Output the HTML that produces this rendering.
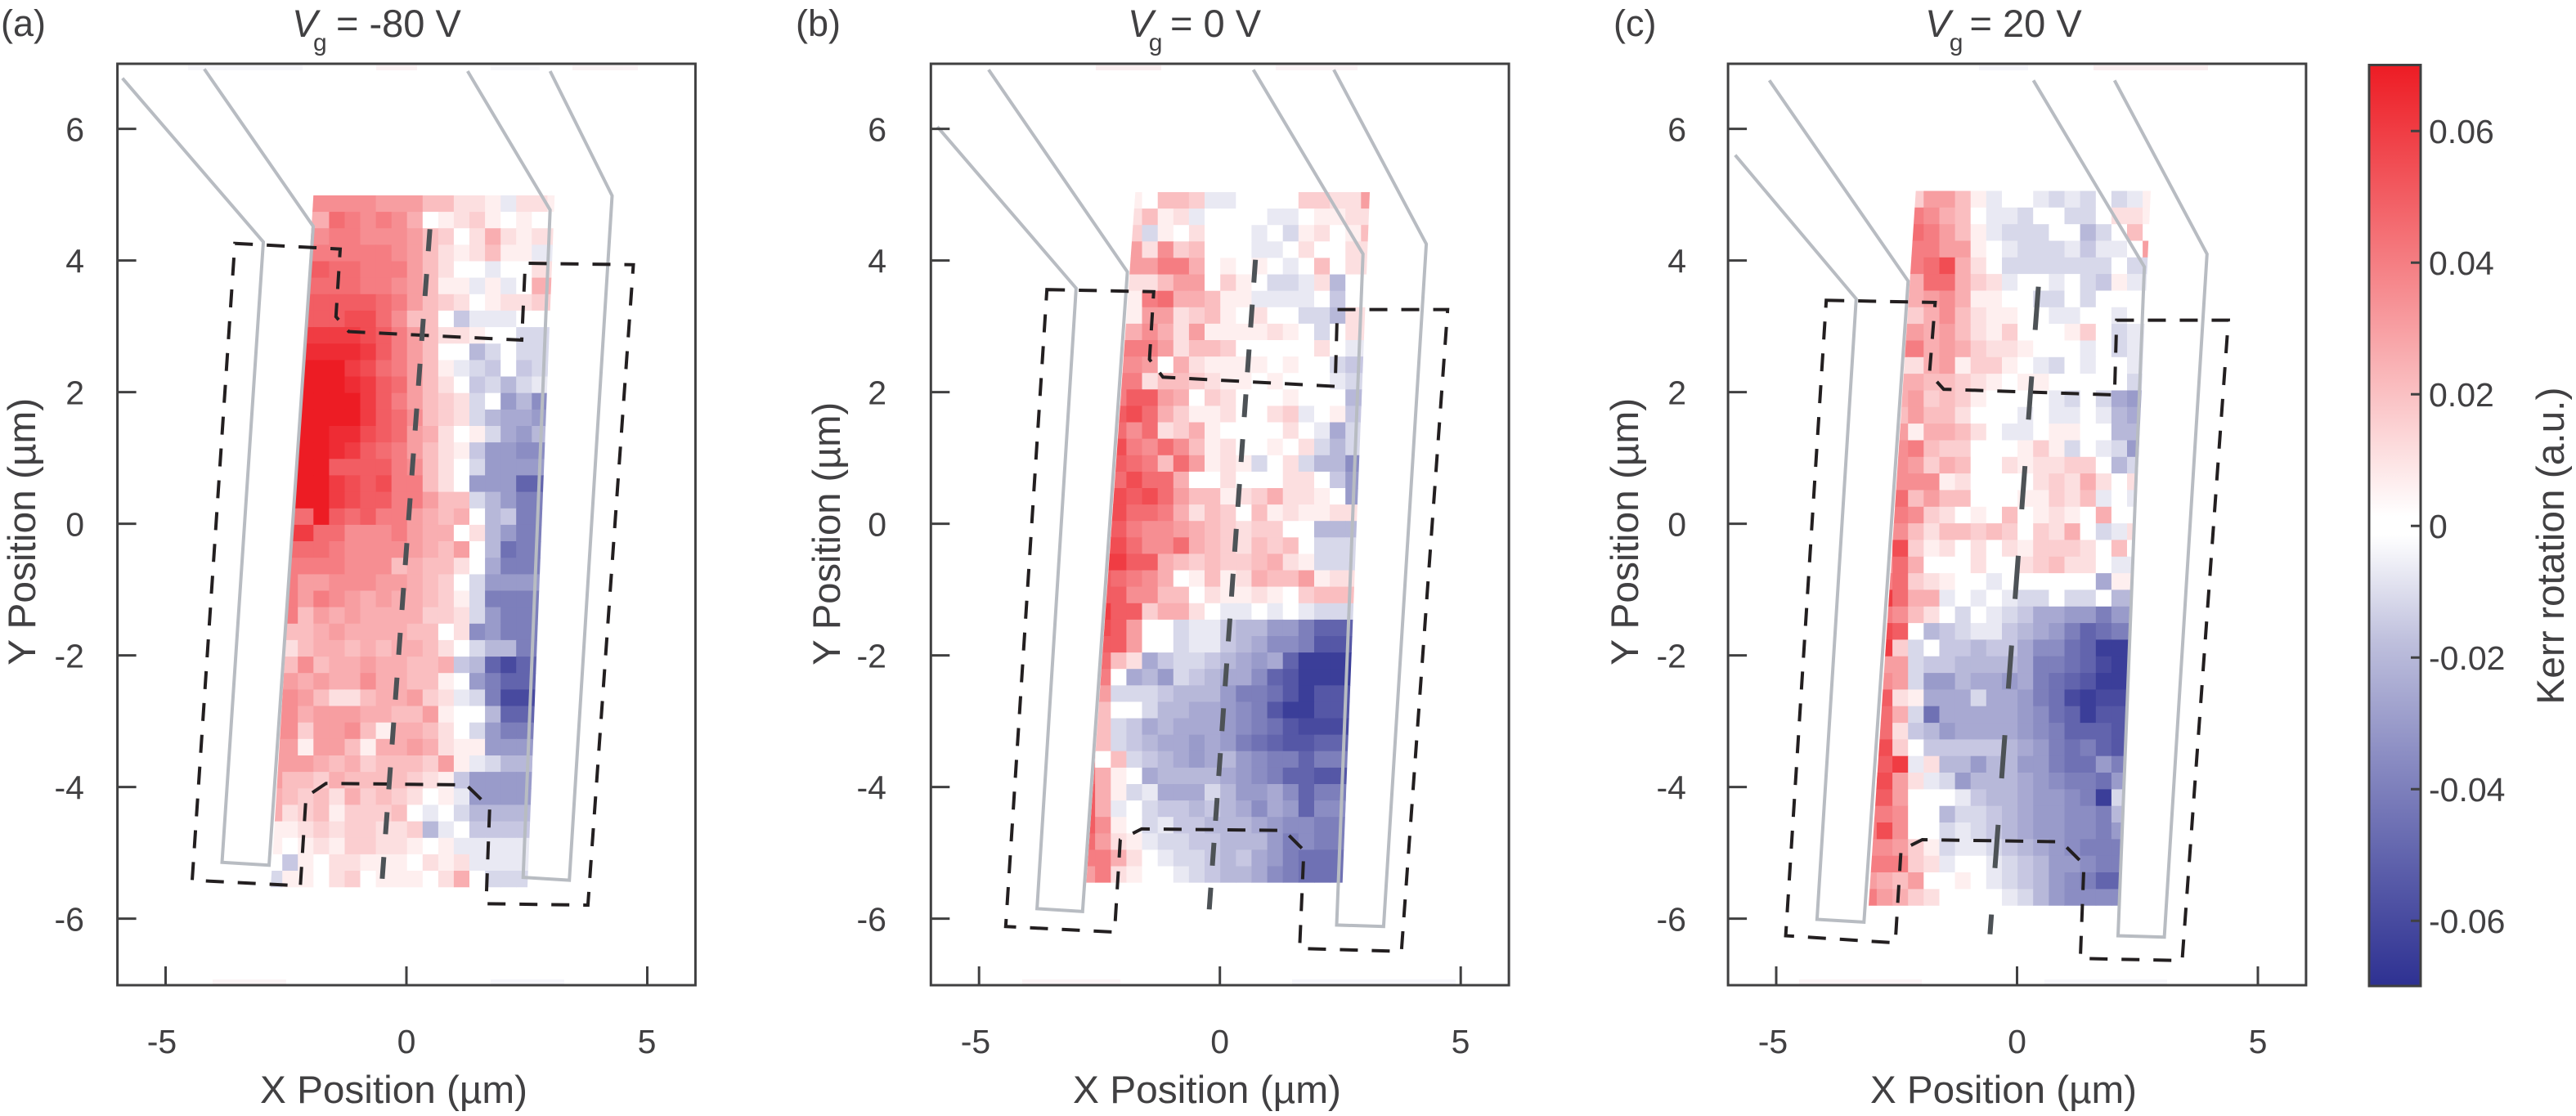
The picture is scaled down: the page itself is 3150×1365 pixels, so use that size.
<!DOCTYPE html>
<html><head><meta charset="utf-8">
<style>
html,body{margin:0;padding:0;background:#fff;}
svg{display:block;}
text{font-family:"Liberation Sans",sans-serif;fill:#414042;}
</style></head>
<body>
<svg id="fig" xmlns="http://www.w3.org/2000/svg" width="3150" height="1365" viewBox="0 0 3150 1365">
<defs>
<clipPath id="clipA"><polygon points="383.3,238.9 678.3,238.9 645,1085.2 331,1085.2"/></clipPath>
<clipPath id="clipB"><polygon points="1388.3,235 1675,235 1641.7,1079.6 1328.3,1079.6"/></clipPath>
<clipPath id="clipC"><polygon points="2342.7,233.5 2630,233.5 2590,1107.7 2285,1107.7"/></clipPath>
<linearGradient id="cb" x1="0" y1="0" x2="0" y2="1">
<stop offset="0" stop-color="#ED1C24"/>
<stop offset="0.25" stop-color="#F68E92"/>
<stop offset="0.49" stop-color="#FFFFFF"/>
<stop offset="0.51" stop-color="#FFFFFF"/>
<stop offset="0.625" stop-color="#BFC0DD"/>
<stop offset="0.75" stop-color="#8B8DC3"/>
<stop offset="0.875" stop-color="#5B5EAA"/>
<stop offset="1" stop-color="#2E3192"/>
</linearGradient>
</defs>
<rect x="0" y="0" width="3150" height="1365" fill="#fff"/>

<!-- faint strips at top/bottom of axes -->
<g opacity="0.35">
<rect x="230" y="80" width="140" height="6" fill="#e8e8f4"/><rect x="460" y="80" width="50" height="6" fill="#f6dde0"/><rect x="600" y="80" width="60" height="6" fill="#ececf6"/><rect x="700" y="80" width="80" height="6" fill="#f6e0e4"/>
<rect x="260" y="1198" width="90" height="6" fill="#f4e0e3"/><rect x="600" y="1198" width="90" height="6" fill="#e4e5f3"/>
<rect x="1340" y="80" width="80" height="6" fill="#f4d0d5"/><rect x="1560" y="80" width="100" height="6" fill="#f6e0e4"/>
<rect x="1250" y="1198" width="120" height="6" fill="#f6e0e4"/><rect x="1580" y="1198" width="200" height="6" fill="#e4e5f3"/>
<rect x="2420" y="80" width="60" height="6" fill="#e4e5f3"/><rect x="2560" y="80" width="140" height="6" fill="#f4d0d5"/>
<rect x="2200" y="1198" width="150" height="6" fill="#f6e0e4"/><rect x="2500" y="1198" width="150" height="6" fill="#e8e8f4"/>
</g>

<g id="hmA" clip-path="url(#clipA)"></g>
<g id="hmB" clip-path="url(#clipB)"></g>
<g id="hmC" clip-path="url(#clipC)"></g>

<!-- gray electrodes -->
<g fill="none" stroke="#B8BCC2" stroke-width="4" stroke-linejoin="miter">
<polyline points="149.7,95.7 322,295.9 271.5,1054.8 329,1058.3 383,276.8 249.8,84.4"/>
<polyline points="571.8,87 672.7,256.8 639.7,1073.1 696.2,1076.6 748.5,239.4 672.7,87"/>
<polyline points="1146.2,154.9 1315.9,352.5 1268.1,1111.4 1323.8,1114.9 1378.6,332.5 1208.9,85.3"/>
<polyline points="1532.6,85.3 1666.7,310.7 1634.5,1131.4 1691.9,1133.2 1744.1,298.5 1631,85.3"/>
<polyline points="2121.8,189.7 2269.8,365.5 2221.9,1124.5 2279.3,1127.9 2333.3,343.8 2163.6,98.3"/>
<polyline points="2486.5,98.3 2622.2,326.4 2590,1144.5 2646.6,1146.2 2698.8,310.7 2585.7,98.3"/>
</g>

<!-- black dashed contours -->
<g fill="none" stroke="#231F20" stroke-width="4" stroke-dasharray="22 17">
<polygon points="287.2,297.7 416,304.6 410.8,387.3 426.5,405.6 638,416 642.3,322 774.5,323.8 718.9,1107.1 594.4,1105.3 598.8,987.8 570.1,960 398.6,958.2 374.2,974.8 367.3,1083.5 235,1076.6"/>
<polygon points="1280.2,354.2 1410.8,356.8 1405.6,439.5 1422.1,461.3 1632.7,472.6 1635.3,378.6 1770.2,378.6 1713.7,1163.6 1589.2,1160.1 1594.4,1040 1570.1,1015.7 1396,1013.9 1369.9,1027 1362.9,1140.1 1229.8,1133.2"/>
<polygon points="2233.2,367.3 2366.4,369.9 2359.4,456.9 2376.8,476.1 2585.7,483 2588.3,391.6 2724.9,391.6 2668.4,1174.9 2543.9,1172.3 2548.3,1057.4 2520.4,1029.6 2350.7,1027 2324.6,1040 2317.6,1153.2 2183.6,1144.5"/>
</g>

<!-- central dashed lines -->
<g fill="none" stroke="#4D5256" stroke-width="6">
<line x1="525.7" y1="280.3" x2="467.4" y2="1074.8" stroke-dasharray="27 28"/>
<line x1="1535.2" y1="317.7" x2="1478.7" y2="1112.3" stroke-dasharray="28 27"/>
<line x1="2492.6" y1="350.7" x2="2433.4" y2="1142.7" stroke-dasharray="53 57"/>
</g>

<!-- frames -->
<g fill="none" stroke="#404041" stroke-width="3">
<rect x="143.6" y="78" width="706.8" height="1127"/>
<rect x="1138.3" y="78" width="706.8" height="1127"/>
<rect x="2113.1" y="78" width="706.8" height="1127"/>
<rect x="2897" y="79.5" width="63" height="1126.5" fill="url(#cb)"/>
</g>

<!-- ticks -->
<g stroke="#404041" stroke-width="3">
<path d="M143.6 157.6h23M143.6 318.6h23M143.6 479.6h23M143.6 640.6h23M143.6 801.6h23M143.6 962.6h23M143.6 1123.6h23"/>
<path d="M1138.3 157.6h23M1138.3 318.6h23M1138.3 479.6h23M1138.3 640.6h23M1138.3 801.6h23M1138.3 962.6h23M1138.3 1123.6h23"/>
<path d="M2113.1 157.6h23M2113.1 318.6h23M2113.1 479.6h23M2113.1 640.6h23M2113.1 801.6h23M2113.1 962.6h23M2113.1 1123.6h23"/>
<path d="M202.5 1205v-23M497 1205v-23M791.5 1205v-23"/>
<path d="M1197.2 1205v-23M1491.7 1205v-23M1786.2 1205v-23"/>
<path d="M2172 1205v-23M2466.5 1205v-23M2761 1205v-23"/>
<path d="M2948 160.2h12M2948 321.2h12M2948 482.2h12M2948 643.2h12M2948 804.2h12M2948 965.2h12M2948 1126.2h12"/>
</g>

<!-- y tick labels -->
<g font-size="41" text-anchor="end">
<text x="103" y="172.3">6</text><text x="103" y="333.3">4</text><text x="103" y="494.3">2</text><text x="103" y="655.3">0</text><text x="103" y="816.3">-2</text><text x="103" y="977.3">-4</text><text x="103" y="1138.3">-6</text>
<text x="1084" y="172.3">6</text><text x="1084" y="333.3">4</text><text x="1084" y="494.3">2</text><text x="1084" y="655.3">0</text><text x="1084" y="816.3">-2</text><text x="1084" y="977.3">-4</text><text x="1084" y="1138.3">-6</text>
<text x="2062" y="172.3">6</text><text x="2062" y="333.3">4</text><text x="2062" y="494.3">2</text><text x="2062" y="655.3">0</text><text x="2062" y="816.3">-2</text><text x="2062" y="977.3">-4</text><text x="2062" y="1138.3">-6</text>
</g>
<!-- x tick labels -->
<g font-size="41" text-anchor="middle">
<text x="198" y="1288">-5</text><text x="497" y="1288">0</text><text x="791" y="1288">5</text>
<text x="1193" y="1288">-5</text><text x="1491.7" y="1288">0</text><text x="1786" y="1288">5</text>
<text x="2168" y="1288">-5</text><text x="2466.5" y="1288">0</text><text x="2761" y="1288">5</text>
</g>
<!-- colorbar tick labels -->
<g font-size="41">
<text x="2970" y="175">0.06</text><text x="2970" y="336">0.04</text><text x="2970" y="497">0.02</text><text x="2970" y="658">0</text><text x="2970" y="819">-0.02</text><text x="2970" y="980">-0.04</text><text x="2970" y="1141">-0.06</text>
</g>

<!-- axis labels -->
<g font-size="47">
<text x="318" y="1349" textLength="327" lengthAdjust="spacingAndGlyphs">X Position (µm)</text>
<text x="1312" y="1349" textLength="328" lengthAdjust="spacingAndGlyphs">X Position (µm)</text>
<text x="2287" y="1349" textLength="326" lengthAdjust="spacingAndGlyphs">X Position (µm)</text>
<text transform="translate(43,813.8) rotate(-90)" textLength="327" lengthAdjust="spacingAndGlyphs">Y Position (µm)</text>
<text transform="translate(1027,813.8) rotate(-90)" textLength="322" lengthAdjust="spacingAndGlyphs">Y Position (µm)</text>
<text transform="translate(2003,813.8) rotate(-90)" textLength="327" lengthAdjust="spacingAndGlyphs">Y Position (µm)</text>
<text transform="translate(3135,861.6) rotate(-90)" textLength="388" lengthAdjust="spacingAndGlyphs">Kerr rotation (a.u.)</text>
</g>

<!-- panel letters -->
<g font-size="45">
<text x="1" y="44">(a)</text>
<text x="973" y="44">(b)</text>
<text x="1973" y="44">(c)</text>
</g>

<!-- titles -->
<g font-size="47">
<text x="357" y="45" font-style="italic">V</text><text x="383" y="62" font-size="30">g</text><text x="411" y="45">= -80 V</text>
<text x="1379" y="45" font-style="italic">V</text><text x="1404.7" y="62" font-size="30">g</text><text x="1431" y="45">= 0 V</text>
<text x="2354" y="45" font-style="italic">V</text><text x="2383.8" y="62" font-size="30">g</text><text x="2408.5" y="45">= 20 V</text>
</g>
</svg>

<script>
(function(){
var NS="http://www.w3.org/2000/svg";
function color(v){
  var t=Math.max(-1,Math.min(1,v/7)),r,g,b;
  if(t>=0){r=255-18*t;g=255-227*t;b=255-219*t;}
  else{t=Math.pow(-t,0.85);r=255-209*t;g=255-206*t;b=255-109*t;}
  return "rgb("+Math.round(r)+","+Math.round(g)+","+Math.round(b)+")";
}
function draw(id,x0,cw,y0,rh,kmin,kmax,rows){
  var g=document.getElementById(id);
  for(var r=0;r<rows.length;r++){
    var st=rows[r][0],vals=rows[r].slice(1);
    for(var k=kmin;k<=kmax;k++){
      var i=k-st;if(i<0)i=0;if(i>=vals.length)i=vals.length-1;
      var e=document.createElementNS(NS,"rect");
      e.setAttribute("x",(x0+cw*k).toFixed(1));
      e.setAttribute("y",(y0+rh*r).toFixed(1));
      e.setAttribute("width",(cw+0.6).toFixed(1));
      e.setAttribute("height",(rh+0.6).toFixed(1));
      e.setAttribute("fill",color(vals[i]));
      g.appendChild(e);
    }
  }
}
var A=[
[3,3.5,3.5,3.5,3.5,3,3,3,2,2,1,1,0.5,-0.5,1,1,0.5],
[3,2.5,4.5,4,3.5,4,3.5,2.5,0,0.5,1,1.5,0.5,0,0.5,0],
[3,3.5,4,4,3.5,3.5,3.5,3,2,1.5,0,1,2.5,1,0.5,1],
[3,4,4,4,4,4,3.5,3,2,1,0.5,1,2,0.5,0.5,-0.5],
[3,5,4.5,4.5,4,4,4,3,2,1,0,0,-0.5,0,0,1],
[3,4.5,4.5,4.5,4,4,3.5,3,2,0.5,0.5,-0.5,0.5,-0.5,0,2.5],
[3,5,5,5,5,4.5,4,3,2,1.5,1,0,0.5,1,1,1.5],
[3,5,5,5.5,5.5,4.5,3.5,2,2,0,-1.5,-0.5,-0.5,-0.5,0,0],
[3,6,6,6,5.5,5,4,3,2,1,1,0.5,0,0,-1,-1],
[3,6.5,6.5,6.5,6,5,4,3,2,0,0,-2,-1,0,-1,-1],
[3,7,7,6,5.5,4.5,4,3,2,0.5,-0.5,-1,-1.5,0,-1.5,-1],
[3,7,7,6.5,6,5,4.5,3,2,1,0,-1.5,-1,-2,-1,-0.5],
[3,7,7,7,6,5,4,3,2,1.5,1,-1,0,-3,-2,-3.5],
[3,7,7,7,6,5,4.5,3.5,2,1.5,1,-1,-2,-2.5,-2.5,-3],
[3,7,6.5,6.5,5.5,5,4.5,3,2.5,1,0,0.5,-1,-2.5,-3,-2],
[2,7,7,6.5,6,5,4.5,4,3,2,1,0.5,-1.5,-3,-3,-3.5],
[2,7,7,5,5,5,5,4,3.5,2,1,0,-1,-3,-3,-3],
[2,7,7,6,5.5,5,5.5,4,4,2,1,0,-3,-3,-3,-5],
[2,7,7,6,5.5,5,5,4,4,3,2,2,-1,-2,-3,-4],
[2,4.5,7,5,4.5,5,4,4,3,2.5,2,2.5,0,-2,-1.5,-4],
[2,6,4.5,4.5,3.5,3.5,3.5,4,3,2.5,2.5,0,1,-2,-3,-4],
[2,4.5,4.5,4,3.5,3.5,3.5,3.5,3,2.5,2,3,0,-2,-4.5,-4],
[1,4,4,4,4,3.5,3.5,3.5,2,2.5,2,2,1,0,-2.5,-4],
[1,4,3,3,3.5,3.5,3.5,3,3,2.5,2,1.5,0,-1,-3,-3],
[1,4,3,4,3.5,3,2.5,3,2.5,2.5,2,1.5,0.5,-1,-4,-4],
[1,4,2,3,2.5,3,2.5,2.5,2.5,2.5,1.5,1.5,1,-1,-3,-4],
[1,2,2,2.5,3,2.5,2.5,2.5,2.5,2,2,0,1,-3.5,-3,-4],
[1,1,2,2.5,2.5,2,2.5,2,2.5,2.5,2,1,0,-1,-2,-2,-4],
[1,2,3.5,2,2.5,2.5,3,2.5,2.5,2,2,2.5,-1.5,-2,-5,-6,-5],
[1,3,2.5,3,2.5,2.5,3.5,2.5,2.5,2,2,0.5,0,-3,-4,-5,-5],
[1,3.5,3,2,1,1,2,2.5,2.5,3,1.5,1,-0.5,-1,-4,-6,-6],
[1,3.5,2.5,3,3,3,2.5,2.5,2,2,3,0.5,0,0,-2,-5,-5],
[1,3.5,1.5,3,3,3.5,2,0.5,2.5,2.5,2,1,0,-1,-3,-4,-4],
[1,3,0.5,3,3,2,0.5,2.5,2.5,3,2.5,1,0.5,0.5,-3,-3,-3],
[1,3,3,2.5,2,2.5,1.5,2,2,2,1.5,3,0.5,-0.5,-1,-2,-2],
[0,3,2,2,1.5,2.5,2,2,2,2,1.5,1,0.5,-1.5,-3,-3],
[0,2.5,2,1.5,2,1,2.5,1.5,2,1.5,1,0,0.5,-0.5,-3,-3],
[0,2.5,1,1.5,2,0.5,1.5,1.5,1.5,2,0,-0.5,0,-1,-2,-2],
[0,0.5,0.5,1,1.5,1,1.5,1.5,1,1,1.5,-2,-0.5,0,-1.5,-1.5],
[0,0.5,0,0.5,1,0.5,1.5,1.5,1,1,0.5,0,0.5,-0.5,-0.5,-0.5],
[0,0,-1.5,0.5,0,1,1,0.5,0.5,0.5,0,1,0.5,1,-0.5,-0.5],
[0,-1,0.5,0.5,0,1,1.5,0,0.5,0.5,0.5,0,1,2.5,0,-1]
];
var B=[
[3,0.5,0,2,2,1.5,-0.5,-0.5,0,0,0,0,1.5,1.5,1,1,3],
[3,1,2,0.5,1,-0.5,0,0,0,0,-0.5,-0.5,0,0.5,0.5,1,1],
[3,1.5,-1,0.5,0,1,0,0,0,-0.5,0,-1,0.5,1,0,0.5,2],
[3,3,1,3.5,1.5,2,0,0,0,-0.5,-0.5,0,1,0,0,1],
[3,3,3,4,4,2.5,0,0.5,0,0.5,0,-0.5,0,2,0,1],
[3,1,1,2,3,3,0,1.5,0.5,0,-1,-1,-0.5,1,-2,0],
[3,0.5,4,4.5,2.5,2.5,2,0.5,0.5,-0.5,-0.5,-0.5,-0.5,0,-1.5,0],
[3,0.5,3,3,1,1.5,2,0.5,0,1,0,0,-1,-1,-2,1],
[3,2.5,3.5,2.5,1,3,0.5,0.5,0.5,0.5,1,0.5,0,-1,0,1],
[3,4,4,3,1,2,2,1.5,0,0,0,0,0,1,0,-0.5],
[3,3.5,3,0,2.5,1,0.5,0.5,0.5,0.5,0,0.5,0,0,-1,-1.5],
[3,4,1,2,2,1.5,1,0.5,0.5,0,0.5,0,0,0,-0.5,-1],
[2,4,5,5,3,2.5,0,1.5,1,0,0,0,0.5,0,0,0,-2],
[2,5,5.5,4.5,2.5,1.5,0.5,0.5,1,0,0,1,1.5,-0.5,0,0.5,-1.5],
[2,4.5,3.5,4.5,1,1.5,2.5,0.5,0,0,0,0,1,0,-0.5,-2.5,-1],
[2,5.5,4,3.5,4.5,3.5,2,0.5,1,0,0,0.5,0,1,-1,-2,-1],
[2,5,4.5,4,2,4.5,3,0.5,1,0.5,-1,0,1,-1,-2,-2,-3.5],
[2,4.5,5.5,4.5,4.5,2.5,0,0,1,0,0,0,1,1,0,-1.5,-3],
[2,5.5,5,5.5,4.5,3,2,2,0.5,1,1.5,2.5,1,1,0.5,0,-3],
[1,5,5.5,4.5,4.5,4,2.5,1,2,1.5,0,2,0.5,1,0.5,0.5,1],
[1,5,5,4,3.5,3.5,3,2.5,2,1.5,1,1.5,1.5,0,0,-2],
[1,5,5.5,4.5,3.5,3.5,4.5,2.5,2,1.5,1,2,1.5,2,0,-1],
[1,6,6,5,5,2.5,2,1.5,2,1.5,1.5,2,2.5,1,0.5,-1],
[1,5,4.5,4,3.5,2.5,0,0.5,2,0.5,1,2.5,2,2,3,0.5,1],
[1,5,5,3.5,3.5,2,2,0,1,0.5,0.5,1,0.5,0,1.5,2],
[1,6,5,5,1.5,2.5,2.5,1,0,-0.5,-0.5,0,-0.5,0,-0.5,-1],
[0,6.5,5.5,5,3,0,0,-1,-0.5,-0.5,-1.5,-2,-2,-3,-3,-4,-5],
[0,5,5,5,3,0,0,-1,-0.5,-0.5,-1.5,-2,-2.5,-3.5,-3.5,-4,-5.5],
[0,5,4.5,2,1,-2.5,-1.5,-1,-1,-1.5,-2,-2.5,-3,-2.5,-5,-6.5,-6.5],
[0,6.5,4,0,-2.5,-2,-3,-1,-1.5,-2,-2.5,-2.5,-3.5,-5,-5.5,-6.5,-6.5],
[0,5.5,3,-1,-1,-1,-1.5,-2,-2,-2,-3,-4,-4,-4.5,-5.5,-6.5,-5.5],
[0,4,2,0,0,-1,-2,-2,-2.5,-2.5,-3,-3.5,-4,-5.5,-6.5,-6.5,-5.5],
[0,3.5,2,-1,-1.5,-2.5,-2,-2.5,-2.5,-2.5,-3,-3.5,-4,-4.5,-5.5,-6,-6],
[0,3.5,2,-1,-1.5,-2,-2.5,-2.5,-3,-2.5,-3,-4,-4.5,-5,-5.5,-5.5,-5],
[0,4.5,0,2,-1,-1.5,-2,-2.5,-3,-2.5,-2,-3,-3.5,-4,-4,-5,-4],
[0,4.5,2.5,0.5,0,-2.5,-2,-2,-2,-2,-2.5,-3,-3.5,-4,-5,-5,-5.5],
[0,5,2.5,0.5,-1,-0.5,-2.5,-2.5,-2.5,-1,-2,-3,-3,-2.5,-3.5,-5,-4],
[0,5,2.5,-0.5,0,-1,-1.5,-1.5,-2,-1.5,-2,-2.5,-3.5,-2.5,-3,-5,-3.5],
[0,5,3.5,0.5,0,-1,-0.5,-1.5,-1.5,-2,-2,-2,-2.5,-3,-3.5,-3.5,-4],
[0,4.5,3,1,0.5,-0.5,-1,-1,-1.5,-1.5,-2,-2,-2,-3,-4,-3.5,-4],
[0,4,4,2.5,1,0,-0.5,-1,-1,-1.5,-2,-1.5,-2.5,-3,-4,-4.5,-4.5],
[0,3,4,1,0.5,0,0,-0.5,-1,-1.5,-2,-2,-2.5,-3.5,-4,-4.5]
];
var C=[
[3,1.5,3,3,2,0.5,-0.5,0,0,-0.5,-1,-0.5,-1,0,-1,-0.5,0.5],
[3,4,3.5,2.5,2,0,-0.5,-0.5,-1,0,0,-1,-1,0,1,1,0.5],
[3,4.5,4,3,2,0.5,-0.5,-1,-1,-1,0,0,-2,-1,0,2,0],
[3,4,4,3,3,0.5,0,-0.5,-1,-1,-1,-0.5,-1.5,-0.5,-0.5,0,3],
[3,4,4.5,5.5,2.5,1,0,-1,-1,-1,-1,-1,-1,-1,0,-1],
[3,2.5,4.5,4.5,2.5,1.5,1,-0.5,0,0,-0.5,0,-1,-1.5,0.5,-0.5],
[3,2.5,3,3.5,2.5,0.5,0.5,0,0,-1,-1,0,-1,0,0,0],
[3,1.5,2.5,3.5,2,1,0.5,0.5,0,0,-0.5,-0.5,0,0,-0.5,0],
[3,3,2.5,3,2,1,0.5,1.5,0,0,0,0.5,1.5,0,-1,-0.5],
[3,4,2.5,3,2.5,1.5,1,1,0.5,0,0,0,-0.5,0,-1,-0.5],
[3,1,2.5,3,0.5,1.5,1.5,0.5,0,-0.5,-1,0,-0.5,0,0,-0.5],
[3,2.5,2,2,1.5,1,0.5,0,0.5,0.5,0,0,0,0,0,-1],
[2,2.5,3,1.5,2,1.5,0.5,0,0,0,0,-0.5,-1,0,-1,-2.5,-3],
[2,2,3,2,2,1,0,0,0,-0.5,0,-0.5,-0.5,0,-0.5,-2,-2.5],
[2,3,0.5,2.5,2.5,2,1,0,-0.5,-0.5,0,0.5,0.5,0,0,-2,-2],
[2,3.5,4,2,1.5,1.5,0,0,0,0.5,1.5,0.5,-1,0,-0.5,-1,-3],
[2,3.5,3,1.5,2.5,2,0,0,1,0.5,1,1,1.5,1.5,0,-2,-1],
[2,3.5,3.5,3.5,0.5,1,0,0,0,0,1,1.5,1,2.5,1,0,1],
[2,4.5,2,3,2,2,0,0,0,0.5,0.5,1.5,1,2,-0.5,0,-0.5],
[2,4,3.5,1.5,1,0,0.5,0,2,0,0.5,1,0.5,0,2.5,0,0],
[2,3.5,2,1,2,2,1.5,2,1.5,0,1.5,1,2.5,0,-1,-0.5,1],
[1,2,5.5,1.5,0.5,1,0,1,0,1,0.5,1.5,1.5,1.5,1,0,2,0],
[1,3,4.5,2.5,0,0,0,1,0,0,1,1.5,2,1,1,0,-0.5],
[1,4,4.5,1.5,1,0.5,0,0,-0.5,0,0,0,0,0,0,-2.5,0.5],
[1,6,4.5,2.5,2.5,-0.5,0,-0.5,0,-0.5,-1,-1,0,-1,-1,0,-2],
[1,4,3.5,2,1,0,-1,0,-0.5,-1,-1.5,-2.5,-2.5,-3,-3,-4,-3],
[1,5.5,5,0,-2,-1.5,-1,-0.5,-0.5,-1.5,-2,-2.5,-3,-4,-5,-4.5,-4],
[1,6,1.5,-1,0,-1.5,-1.5,-2,-1.5,-1.5,-2.5,-3.5,-3.5,-4.5,-5,-6.5,-6.5],
[1,3,3,-1,-1.5,-1.5,-2,-2,-2,-2,-2.5,-4,-4,-4.5,-5,-6,-6.5],
[1,3.5,3,-1,-3,-3,-2,-2.5,-2.5,-3,-2.5,-4,-4.5,-5,-5.5,-6.5,-6.5],
[1,5,1,0.5,-2.5,-2.5,-2.5,-1,-2.5,-2.5,-3,-4,-4.5,-6,-6.5,-6,-6],
[1,4.5,2.5,-1,-4.5,-2.5,-2.5,-2.5,-2.5,-2.5,-3,-3.5,-4.5,-5,-6.5,-5.5,-5.5],
[1,4.5,1,-1.5,-2,-3,-2.5,-2.5,-2.5,-2.5,-3,-3.5,-4,-5,-5,-5,-5.5],
[1,5.5,1.5,0,-1.5,-1.5,-1.5,-1.5,-1.5,-2,-2.5,-3,-4,-4.5,-4,-5,-5.5],
[1,5,6,-0.5,1,-2,-2,-3,-2,-2,-3,-3,-4,-4.5,-4.5,-3,-4],
[1,5.5,3,1,-0.5,-1,-3,-2,-2,-2,-2.5,-3,-3.5,-4,-4,-4.5,-3],
[1,5,3,0,0,0,-0.5,-1.5,-2,-2,-2.5,-3,-3,-3.5,-4,-6.5,-1],
[0,4,4,3.5,0,0,-2,-1,-1,-1.5,-2,-2.5,-3,-3,-3.5,-3.5,-4,-2],
[0,4,5.5,3.5,0,0,-1,-0.5,-1,-1.5,-2,-2.5,-3,-3,-3.5,-3.5,-4,-3],
[0,3.5,3.5,3,1.5,0.5,-1,-0.5,-0.5,-1,-1.5,-2,-2.5,-3,-3.5,-4,-4],
[0,4,4,4,1.5,1,-0.5,0,0,-0.5,-1,-1.5,-2,-3,-3,-3.5,-4],
[0,3,2.5,2,3,0,0,0.5,0,-0.5,-1,-1.5,-2,-3,-3.5,-4,-5],
[0,4,3,2.5,1.5,1,0,0,0,0,-0.5,-1,-2,-3,-3.5,-3.5,-3.5]
];
draw("hmA",326.1,19.07,238.9,20.15,-1,19,A);
draw("hmB",1320.0,19.13,235.0,20.11,-1,19,B);
draw("hmC",2275.8,19.13,233.5,20.33,-1,19,C);
})();
</script>
</body></html>
